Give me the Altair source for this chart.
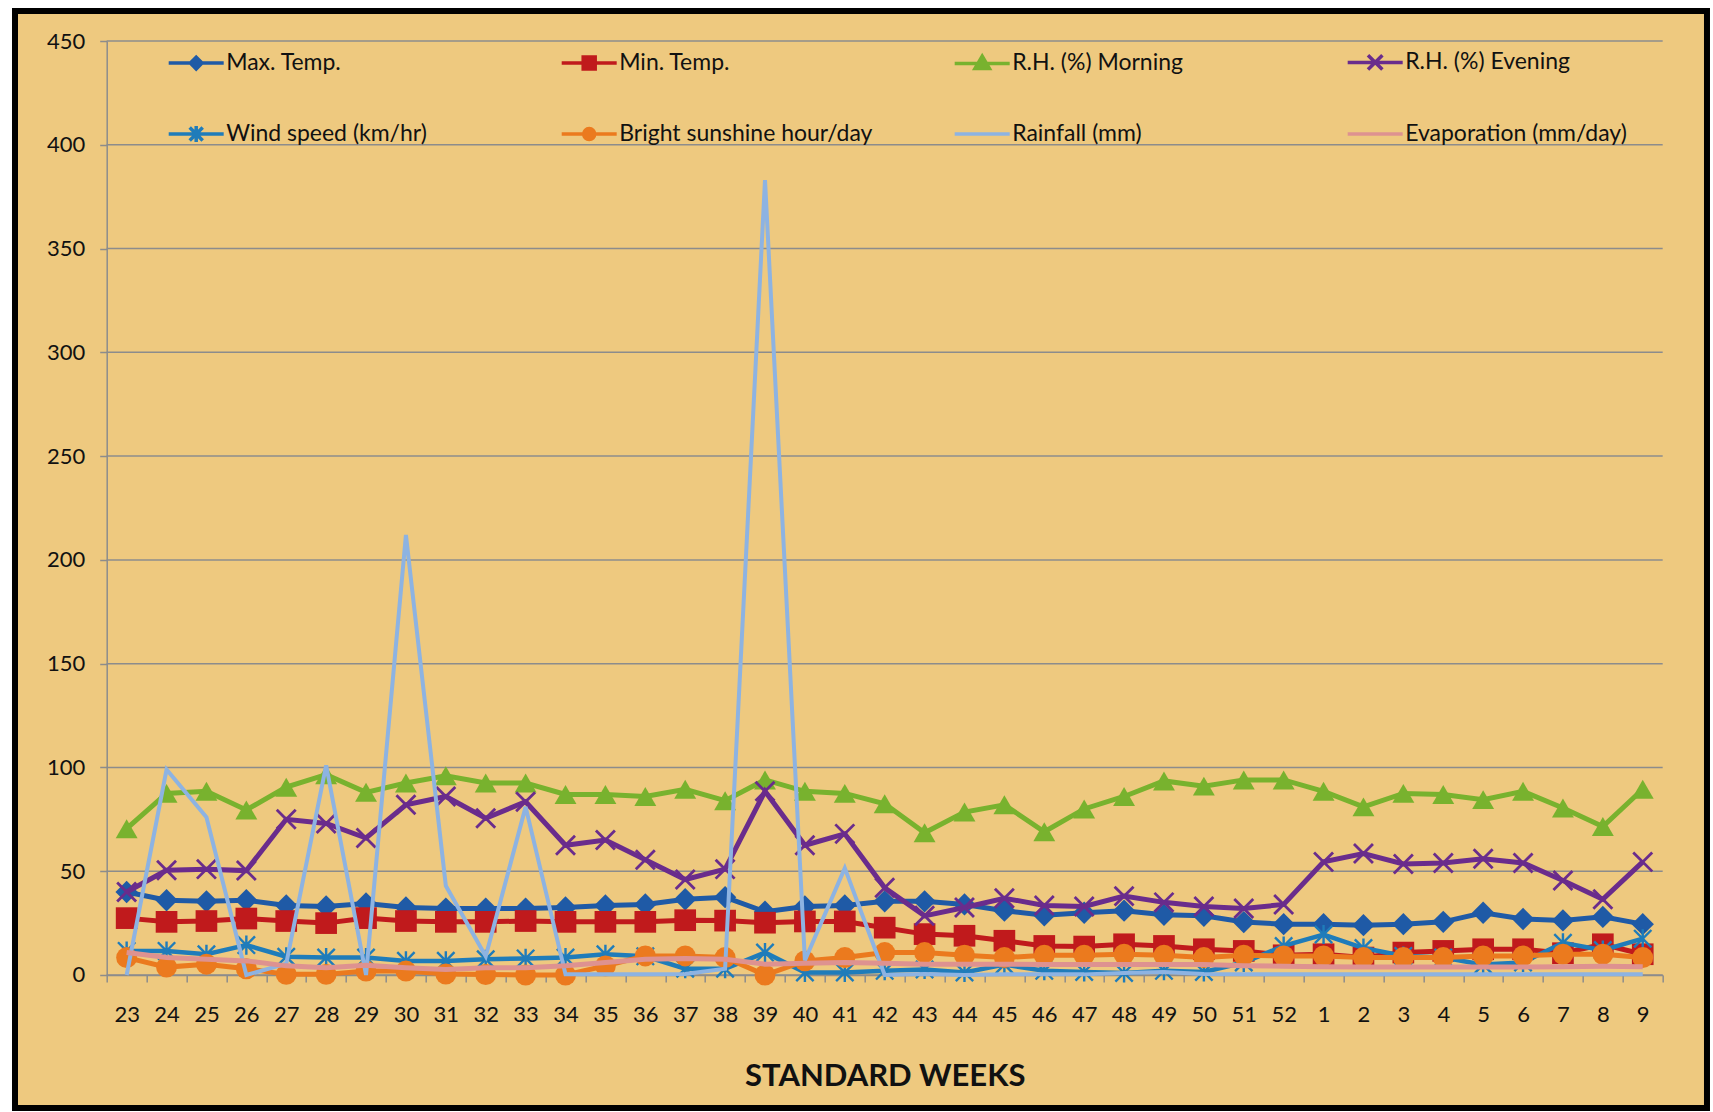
import altair as alt
import pandas as pd

weeks = ["23", "24", "25", "26", "27", "28", "29", "30", "31", "32", "33", "34", "35",
         "36", "37", "38", "39", "40", "41", "42", "43", "44", "45", "46", "47", "48",
         "49", "50", "51", "52", "1", "2", "3", "4", "5", "6", "7", "8", "9"]

max_temp = [40, 36, 35.5, 36, 33.5, 33, 34.5, 32.5, 32, 32, 32, 32.5, 33.5,
            34, 36.5, 37.5, 30.5, 33, 33.5, 35.5, 35.5, 34, 31, 28.8, 30, 31,
            29, 28.5, 25.5, 24.5, 24.5, 24, 24.5, 25.6, 30, 27, 26.3, 28, 24.5]
min_temp = [27.4, 25.6, 26, 27.2, 26, 25, 27.4, 26, 25.6, 25.6, 26, 25.6, 25.6,
            25.6, 26.4, 26.2, 25.2, 25.8, 25.8, 22.8, 19.7, 18.9, 16.5, 14, 13.7, 14.8,
            14, 12.4, 11.6, 9.5, 10, 8.4, 10.8, 11.6, 12.4, 12.4, 10.5, 14.8, 10]
rh_morning = [70.5, 87.5, 88.5, 79.5, 90.5, 96.5, 88, 92.5, 96, 92.5, 92.5, 87, 87,
              86, 89.5, 84, 94, 88.5, 87.5, 82.5, 68.5, 78.5, 82, 69, 80, 86,
              93.5, 91, 94, 94, 88.5, 81, 87.5, 87, 84.5, 88.5, 80.5, 71.5, 89.5]
rh_evening = [40, 50.5, 51, 50.3, 75, 73, 66, 82, 86, 75.5, 83.5, 62.5, 65,
              55.5, 46, 51, 88.5, 62.5, 68, 42, 28.5, 32.5, 37, 33.5, 33, 38,
              35, 33, 32, 34, 54.5, 58.5, 53.5, 54, 56, 54, 45.5, 36.5, 54.5]
wind = [11.6, 11.6, 10, 14.4, 8.8, 8.4, 8.4, 6.8, 6.8, 7.6, 8, 8.4, 10,
        9, 3, 3, 10.8, 1.2, 1.2, 2, 2.7, 1.2, 5, 2, 1.5, 1,
        2, 1.5, 6, 14, 19.5, 13, 9.2, 8.4, 5, 6, 15.5, 12, 17.5]
sunshine = [8.4, 3.8, 5.2, 3, 0.3, 0.3, 1.9, 1.9, 0.5, 0.2, 0, 0, 4.4,
            9.2, 9.2, 8.4, 0, 6.8, 8.4, 10.8, 10.8, 9.5, 8.4, 9.5, 9.5, 10,
            9.5, 8.4, 9.5, 9.2, 9.2, 8.4, 8.4, 8.4, 9.2, 9.2, 10, 10, 8.4]
rainfall = [0, 99, 76, 0, 5.5, 101, 0, 212, 43, 9, 81, 0.3, 0.3,
            0.3, 0.5, 3, 383, 7, 51.5, 0, 0.5, 0, 0.3, 0.3, 0.3, 1,
            1.5, 0.5, 0.3, 0.3, 0.3, 0.3, 0.3, 0.3, 0.3, 0.3, 0.3, 0.3, 0.3]
evaporation = [10.8, 8.4, 7.6, 6.8, 4.4, 3.5, 4.7, 3.5, 2.7, 3.5, 3.5, 4.4, 6,
               7.6, 7.9, 7.6, 5.2, 5.6, 6, 5.6, 5.2, 5.2, 5.2, 5, 5, 5,
               5, 5, 4.5, 4.2, 4, 3.8, 3.8, 3.8, 3.8, 3.8, 4, 4.2, 4]

names = ["Max. Temp.", "Min. Temp.", "R.H. (%) Morning", "R.H. (%) Evening",
         "Wind speed (km/hr)", "Bright sunshine hour/day", "Rainfall (mm)",
         "Evaporation (mm/day)"]
colors = ["#1F5AA6", "#C01A1C", "#78B22E", "#6A2C8C",
          "#1F7CBA", "#EB7A1E", "#8DB3E2", "#DE9290"]
series_values = [max_temp, min_temp, rh_morning, rh_evening,
                 wind, sunshine, rainfall, evaporation]
y_ticks = [0, 50, 100, 150, 200, 250, 300, 350, 400, 450]

TAN = "#EEC97F"
GRID = "#8C8C8C"
FONT = "Lato"

rows = []
for name, vals in zip(names, series_values):
    for w, v in zip(weeks, vals):
        rows.append({"week": w, "series": name, "value": v})
df = pd.DataFrame(rows)

x_axis = alt.Axis(title="STANDARD WEEKS", titleFontSize=31, titleFontWeight="bold",
                  titleFont=FONT, titleColor="#111111", titlePadding=36,
                  labelFontSize=22, labelFont=FONT, labelColor="#111111", labelAngle=0,
                  labelPadding=23, tickSize=7, tickColor=GRID, tickWidth=1.5,
                  domainColor=GRID, domainWidth=1.5, tickBand="extent", grid=False)
y_axis = alt.Axis(title=None, values=y_ticks, grid=False, tickSize=7, tickColor=GRID,
                  tickWidth=1.5, domainColor=GRID, domainWidth=1.5,
                  labelFontSize=22, labelFont=FONT, labelColor="#111111",
                  labelPadding=15)

x_enc = alt.X("week:N", sort=weeks,
              scale=alt.Scale(type="band", paddingInner=0, paddingOuter=0, domain=weeks),
              axis=x_axis)
y_enc = alt.Y("value:Q", scale=alt.Scale(domain=[0, 450], nice=False, zero=True),
              axis=y_axis)
color_enc = alt.Color("series:N", scale=alt.Scale(domain=names, range=colors), legend=None)

one = pd.DataFrame({"f": [0]})
margin = alt.Chart(one).mark_rect(
    fill="transparent", stroke="white", strokeWidth=40
).encode(x=alt.value(-114.7), x2=alt.value(1623.3), y=alt.value(-53), y2=alt.value(1090))
frame = alt.Chart(one).mark_rect(
    fill="transparent", stroke="black", strokeWidth=6
).encode(x=alt.value(-91.7), x2=alt.value(1600.3), y=alt.value(-30), y2=alt.value(1067))

grid = alt.Chart(pd.DataFrame({"value": y_ticks})).mark_rule(
    color=GRID, strokeWidth=1.5
).encode(y=y_enc)

X_PATH = "M-1,-1L1,1M-1,1L1,-1"
STAR_PATH = "M-1,-1L1,1M-1,1L1,-1M0,-1.1V1.1"
markers = [
    dict(shape="diamond", size=500, filled=True),
    dict(shape="square", size=470, filled=True),
    dict(shape="triangle-up", size=480, filled=True),
    dict(shape=X_PATH, size=360, filled=False, strokeWidth=2.8),
    dict(shape=STAR_PATH, size=300, filled=False, strokeWidth=2.4),
    dict(shape="circle", size=440, filled=True),
    None,
    None,
]
line_widths = [5, 5, 5, 5, 4.5, 5, 4, 5]

# legend symbols: a line segment with the series marker (solid markers are built
# from nested outlines so that the stroked legend symbol looks filled)
LINE = "M-2.75,0H2.75"
legend_paths = [
    LINE + "M0,-0.58L0.58,0L0,0.58L-0.58,0Z" + "M0,-0.3L0.3,0L0,0.3L-0.3,0Z",
    LINE + "M-0.6,-0.6H0.6V0.6H-0.6Z" + "M-0.3,-0.3H0.3V0.3H-0.3Z",
    LINE + "M0,-0.72L0.72,0.52H-0.72Z" + "M0,-0.32L0.32,0.22H-0.32Z",
    LINE + "M-0.72,-0.72L0.72,0.72M-0.72,0.72L0.72,-0.72",
    LINE + "M-0.65,-0.65L0.65,0.65M-0.65,0.65L0.65,-0.65M0,-0.8V0.8",
    LINE + "M-0.55,0A0.55,0.55 0 1,0 0.55,0A0.55,0.55 0 1,0 -0.55,0Z"
         + "M-0.25,0A0.25,0.25 0 1,0 0.25,0A0.25,0.25 0 1,0 -0.25,0Z",
    LINE,
    LINE,
]

leg = alt.Legend(title=None, orient="none", legendX=77.5, legendY=9,
                 direction="horizontal", columns=4, gridAlign="all",
                 columnPadding=74, rowPadding=42, labelLimit=400,
                 labelFontSize=23, labelFont=FONT, labelColor="#111111",
                 symbolSize=400, symbolStrokeWidth=3.5, labelOffset=18)

# legend-carrying layer: the same points, pushed outside the y domain and clipped away
legend_layer = alt.Chart(df).transform_calculate(value="-100000").mark_point(
    filled=False, opacity=1, strokeWidth=3.5, clip=True
).encode(
    x=x_enc, y=y_enc,
    color=alt.Color("series:N", scale=alt.Scale(domain=names, range=colors), legend=leg),
    shape=alt.Shape("series:N", scale=alt.Scale(domain=names, range=legend_paths), legend=leg),
)

layers = [legend_layer, margin, frame, grid]
for name, mk, lw in zip(names, markers, line_widths):
    base = alt.Chart(df).transform_filter(alt.datum.series == name)
    layers.append(base.mark_line(strokeWidth=lw, opacity=1).encode(
        x=x_enc, y=y_enc, color=color_enc))
    if mk is not None:
        props = dict(shape=mk["shape"], size=mk["size"], filled=mk["filled"], opacity=1)
        if mk["filled"]:
            props["strokeWidth"] = 0
        else:
            props["strokeWidth"] = mk["strokeWidth"]
        layers.append(base.mark_point(**props).encode(x=x_enc, y=y_enc, color=color_enc))

chart = alt.layer(*layers).resolve_scale(color="independent", shape="independent").properties(
    width=1556, height=934, background=TAN,
    autosize=alt.AutoSizeParams(type="none"),
    padding={"left": 106.7, "top": 41, "right": 49, "bottom": 136},
).configure(font=FONT).configure_view(stroke=None)

chart.save("out.html", embed_options={"renderer": "svg", "actions": False})
